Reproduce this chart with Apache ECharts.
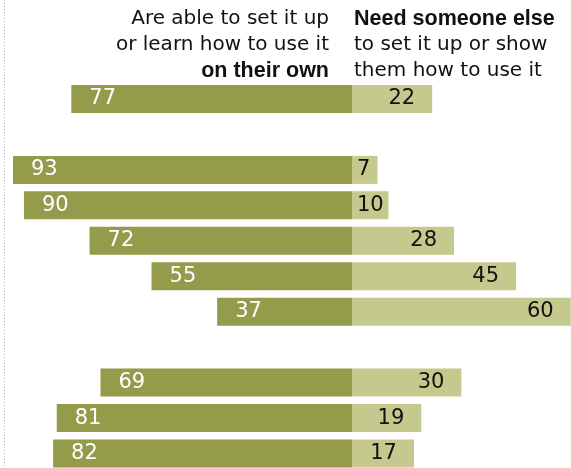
<!DOCTYPE html>
<html>
<head>
<meta charset="utf-8">
<script src="https://cdn.jsdelivr.net/npm/echarts@6/dist/echarts.min.js"></script>
<style>html,body{margin:0;padding:0;background:#fff;}#c{width:571px;height:468px;}</style>
</head>
<body>
<div id="c"></div>
<script>
// Row slots (empty slots are spacing rows in the original)
var categories = ['Row 1', 'Gap 1', 'Row 2', 'Row 3', 'Row 4', 'Row 5', 'Row 6', 'Gap 2', 'Row 7', 'Row 8', 'Row 9'];
var ownValues = [77, null, 93, 90, 72, 55, 37, null, 69, 81, 82];
var helpValues = [22, null, 7, 10, 28, 45, 60, null, 30, 19, 17];
var leftHeader = ['Are able to set it up', 'or learn how to use it', 'on their own'];
var rightHeader = ['Need someone else', 'to set it up or show', 'them how to use it'];

var DARK = '#949b4a', LIGHT = '#c5c98d';
var FONT = '"DejaVu Sans", sans-serif';
var BOLD_FONT = '"Liberation Sans", Arial, sans-serif';

var chart = echarts.init(document.getElementById('c'), null, {renderer: 'canvas'});

var ownData = ownValues.map(function (v) { return v == null ? null : -v; });
var helpData = helpValues.map(function (v) {
  if (v == null) return null;
  if (v < 15) {
    return {value: v, label: {position: 'insideLeft', distance: 5}};
  }
  return v;
});

function headerText(lines, x, align, boldIdx) {
  return lines.map(function (t, i) {
    var bold = i === boldIdx;
    return {
      type: 'text',
      x: x,
      y: 19 + i * 26,
      style: {
        text: t,
        align: align,
        verticalAlign: 'middle',
        fill: '#111',
        font: bold ? ('bold 21.5px ' + BOLD_FONT) : ('20px ' + FONT)
      }
    };
  });
}

chart.setOption({
  animation: false,
  backgroundColor: '#fff',
  grid: {left: 0, right: 0, top: 99, bottom: 14.5, containLabel: false},
  xAxis: {type: 'value', min: -96.57, max: 60.08, show: false},
  yAxis: {
    type: 'category', data: categories, inverse: true, boundaryGap: false,
    axisLine: {show: false}, axisTick: {show: false}, axisLabel: {show: false}, splitLine: {show: false}
  },
  series: [
    {
      type: 'bar', stack: 'all', data: ownData, barWidth: 28, clip: false,
      itemStyle: {color: DARK},
      label: {
        show: true, position: 'insideLeft', distance: 18,
        color: '#fff', fontSize: 21, fontFamily: FONT,
        formatter: function (p) { return Math.abs(p.value); }
      }
    },
    {
      type: 'bar', stack: 'all', data: helpData, barWidth: 28, clip: false,
      itemStyle: {color: LIGHT},
      label: {
        show: true, position: 'insideRight', distance: 17,
        color: '#111', fontSize: 21, fontFamily: FONT
      }
    }
  ],
  graphic: [
    {
      type: 'line',
      shape: {x1: 4.5, y1: 0, x2: 4.5, y2: 468},
      style: {stroke: '#b0b0b0', lineWidth: 1, lineDash: [1, 2]}
    }
  ].concat(headerText(leftHeader, 329, 'right', 2))
   .concat(headerText(rightHeader, 354, 'left', 0))
});
</script>
</body>
</html>
